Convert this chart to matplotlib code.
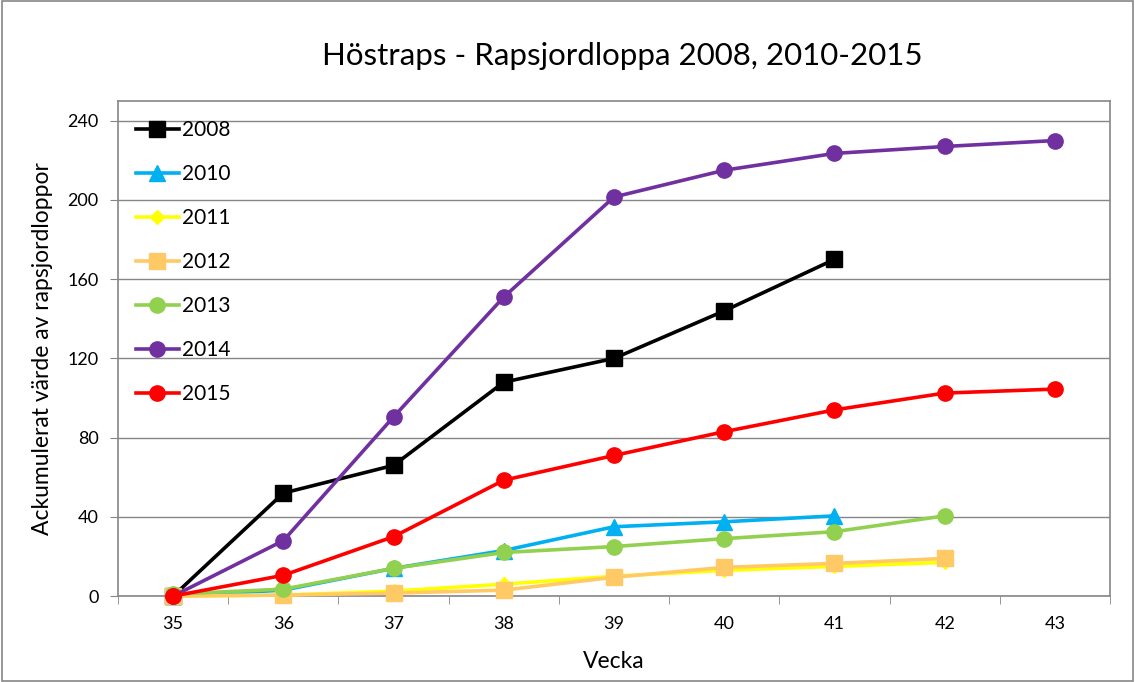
import numpy as np
import matplotlib.pyplot as plt
from matplotlib.patches import Rectangle

plt.rcParams['font.family'] = ['Lato', 'DejaVu Sans']

weeks = [35, 36, 37, 38, 39, 40, 41, 42, 43]

y2008 = [0, 52, 66, 108, 120, 144, 170]
y2010 = [0, 3, 14, 23, 35, 37.5, 40.5]
y2011 = [0, 0.5, 2.5, 6, 10, 13, 15, 17]
y2012 = [0, 0.5, 1.5, 3, 9.5, 14.5, 16.5, 19]
y2013 = [1, 3.5, 14, 22, 25, 29, 32.5, 40.5]
y2014 = [0, 28, 90.5, 151, 201.5, 215, 223.5, 227, 230]
y2015 = [0, 10.5, 30, 58.5, 71, 83, 94, 102.5, 104.5]

series = [
    ('2008', y2008, '#000000', 's', 11),
    ('2010', y2010, '#00B0F0', '^', 12),
    ('2011', y2011, '#FFFF00', 'D', 7),
    ('2012', y2012, '#FFC966', 's', 11),
    ('2013', y2013, '#92D050', 'o', 11),
    ('2014', y2014, '#7030A0', 'o', 11),
    ('2015', y2015, '#FF0000', 'o', 11),
]

fig = plt.figure(figsize=(11.35, 6.82), dpi=100)
ax = fig.add_axes([0.104, 0.126, 0.874, 0.726])

x = np.arange(len(weeks))
for label, vals, color, marker, ms in series:
    ax.plot(x[:len(vals)], vals, color=color, lw=2.6, marker=marker, ms=ms,
            label=label, clip_on=False, zorder=3)

ax.set_xlim(-0.5, len(weeks) - 0.5)
ax.set_ylim(0, 250)
ax.set_yticks(range(0, 241, 40))
ax.set_xticks(x)
ax.set_xticklabels([str(w) for w in weeks], fontsize=13)
ax.set_xticks(np.arange(-0.5, len(weeks), 1), minor=True)
ax.tick_params(axis='x', which='major', length=0, pad=14)
ax.tick_params(axis='x', which='minor', length=6, color='#868686', direction='out')
ax.tick_params(axis='y', length=6, color='#868686', direction='out', labelsize=13, pad=8)
ax.grid(axis='y', color='#868686', lw=1)
ax.set_axisbelow(True)
for s in ax.spines.values():
    s.set_color('#868686')
    s.set_linewidth(1.2)

ax.set_xlabel('Vecka', fontsize=16.5, labelpad=14)
ax.set_ylabel('Ackumulerat värde av rapsjordloppor', fontsize=16.5, labelpad=10)
fig.text(0.548, 0.918, 'Höstraps - Rapsjordloppa 2008, 2010-2015', fontsize=22.5,
         ha='center', va='center')

leg = ax.legend(loc='upper left', bbox_to_anchor=(0.003, 0.99), frameon=False,
                fontsize=15, labelspacing=1.15, handlelength=2.1, handletextpad=0.15,
                borderaxespad=0.3)

fig.patches.append(Rectangle((0.002, 0.002), 0.996, 0.996, transform=fig.transFigure,
                             fill=False, edgecolor='#868686', lw=1.2))

fig.savefig('out.png', dpi=100)
